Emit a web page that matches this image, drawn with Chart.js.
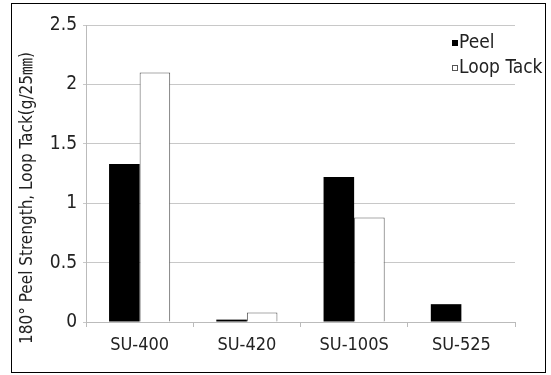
<!DOCTYPE html>
<html>
<head>
<meta charset="utf-8">
<script src="https://cdn.jsdelivr.net/npm/chart.js@4.4.0/dist/chart.umd.min.js"></script>
<style>
  body { margin: 0; background: #fff; }
  #frame { position: absolute; left: 11px; top: 3px; width: 533px; height: 368px; border: 1px solid #000; }
  canvas { display: block; }
</style>
</head>
<body>
<div id="frame"><canvas id="grafico" width="533" height="368"></canvas></div>
<script>
const categorias = ['SU-400', 'SU-420', 'SU-100S', 'SU-525'];
const peel = [1.33, 0.02, 1.22, 0.15];
const loopTack = [2.10, 0.08, 0.88, 0];
const ticksY = [0, 0.5, 1, 1.5, 2, 2.5];
const tituloY = '180° Peel Strength, Loop Tack(g/25㎜)';

const fuente = '"DejaVu Sans Condensed", "Liberation Sans", "Noto Sans CJK KR", sans-serif';

// leyenda y titulo del eje Y dibujados a mano
const leyendaPlugin = {
    id: 'leyenda',
    afterDraw(chart) {
        const ctx = chart.ctx;
        const area = chart.chartArea;
        ctx.save();
        ctx.font = '19px ' + fuente;
        ctx.textBaseline = 'middle';
        chart.data.datasets.forEach((ds, i) => {
            const x = area.right - 63;
            const y = area.top + 18 + i * 25;
            ctx.fillStyle = ds.backgroundColor;
            ctx.fillRect(x, y - 3, 6, 6);
            ctx.strokeStyle = ds.borderColor;
            ctx.lineWidth = 1;
            ctx.strokeRect(x + 0.5, y - 2.5, 5, 5);
            ctx.fillStyle = '#222';
            ctx.fillText(ds.label, x + 7, y);
        });

        ctx.translate(16, 194);
        ctx.rotate(-Math.PI / 2);
        ctx.font = '17px ' + fuente;
        ctx.textAlign = 'center';
        ctx.fillStyle = '#222';
        ctx.fillText(tituloY, 0, 0);
        ctx.restore();
    }
};

new Chart(document.getElementById('grafico').getContext('2d'), {
    type: 'bar',
    data: {
        labels: categorias,
        datasets: [
            { label: 'Peel', data: peel, backgroundColor: '#000', borderColor: '#000', borderWidth: 0 },
            { label: 'Loop Tack', data: loopTack, backgroundColor: '#fff', borderColor: '#555', borderWidth: 1 }
        ]
    },
    options: {
        responsive: false,
        animation: false,
        layout: { padding: { top: 21, right: 30, left: 0, bottom: 0 } },
        datasets: { bar: { categoryPercentage: 0.57, barPercentage: 1 } },
        plugins: { legend: { display: false }, tooltip: { enabled: false } },
        scales: {
            x: {
                grid: { display: true, drawOnChartArea: false, offset: true, tickLength: 5, color: '#bbb' },
                border: { color: '#bbb' },
                ticks: { color: '#222', font: { family: fuente, size: 18 }, padding: 8 },
                afterFit(scale) { scale.height = 50; }
            },
            y: {
                min: 0, max: 2.5,
                afterBuildTicks(scale) { scale.ticks = ticksY.map(v => ({ value: v })); },
                grid: { color: '#c8c8c8', tickLength: 3 },
                border: { color: '#bbb' },
                ticks: { color: '#222', font: { family: fuente, size: 19 }, padding: 6, callback: v => String(v) },
                afterFit(scale) { scale.width = 74; }
            }
        }
    },
    plugins: [leyendaPlugin]
});
</script>
</body>
</html>
